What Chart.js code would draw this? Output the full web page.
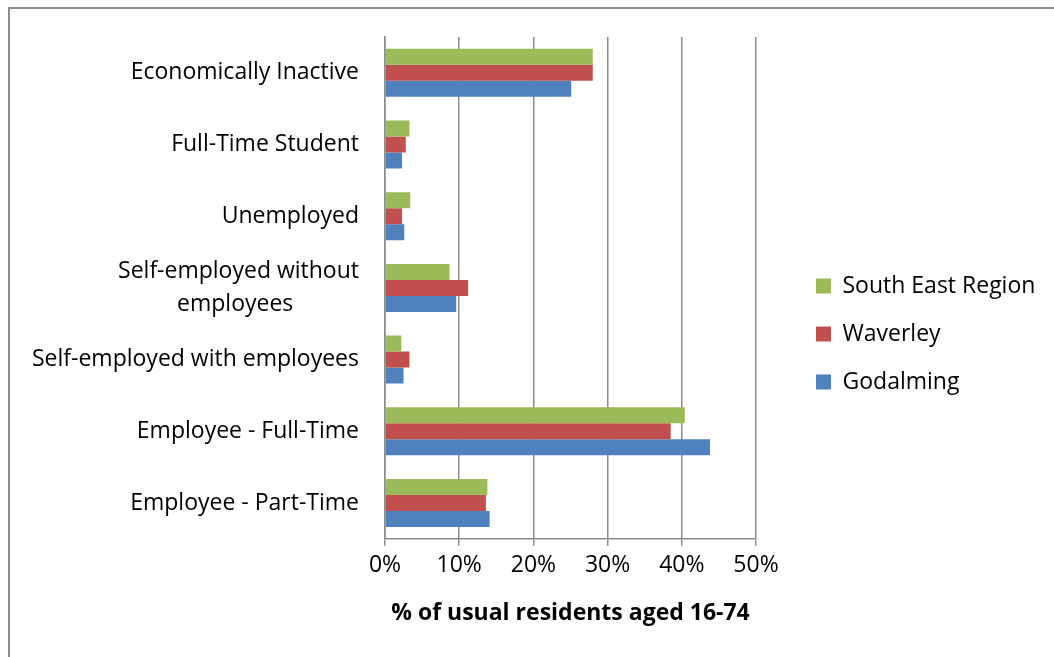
<!DOCTYPE html>
<html>
<head>
<meta charset="utf-8">
<script src="https://cdn.jsdelivr.net/npm/chart.js@4"></script>
<style>
  html, body { margin: 0; padding: 0; background: #fff; overflow: hidden; }
  #frame { position: absolute; left: 8px; top: 7px; width: 1100px; height: 700px; border: 2px solid #8c8c8c; }
  #chart { position: absolute; left: 0; top: 0; }
</style>
</head>
<body>
<div id="frame"></div>
<canvas id="chart" width="1054" height="657"></canvas>
<script>
// categories, top to bottom
const categories = [
    'Economically Inactive',
    'Full-Time Student',
    'Unemployed',
    ['Self-employed without', 'employees           '],
    'Self-employed with employees',
    'Employee - Full-Time',
    'Employee - Part-Time'
];
// % of usual residents aged 16-74
const southEast = [28.0, 3.3, 3.4, 8.7, 2.2, 40.4, 13.8];
const waverley = [28.0, 2.8, 2.3, 11.2, 3.3, 38.5, 13.6];
const godalming = [25.1, 2.3, 2.6, 9.6, 2.5, 43.8, 14.1];
const xTicks = [0, 10, 20, 30, 40, 50];

const FONT = 'Open Sans';
const GAP = 35;          // space between plot and legend
const LEGEND_W = 263;    // legend column width

// empty box between the plot and the legend, and a fixed legend width
const legendLayout = {
    id: 'legendLayout',
    beforeInit(chart) {
        Chart.layouts.addBox(chart, {
            position: 'right',
            weight: 500,
            fullSize: false,
            options: {},
            width: GAP,
            height: 0,
            update(maxWidth, maxHeight) { this.width = GAP; this.height = maxHeight; },
            draw() {},
            isHorizontal() { return false; }
        });
    },
    afterInit(chart) {
        const lg = chart.legend;
        const fit = lg.fit.bind(lg);
        lg.fit = function() {
            fit();
            this.width = LEGEND_W;
        };
    }
};

new Chart(document.getElementById('chart'), {
    type: 'bar',
    data: {
        labels: categories,
        datasets: [
            { label: 'South East Region', data: southEast, backgroundColor: '#9BBB59' },
            { label: 'Waverley', data: waverley, backgroundColor: '#C0504D' },
            { label: 'Godalming', data: godalming, backgroundColor: '#4F81BD' }
        ]
    },
    options: {
        indexAxis: 'y',
        responsive: false,
        animation: false,
        categoryPercentage: 0.67,
        barPercentage: 1,
        layout: { padding: { left: 0, top: 37, right: 0, bottom: 26 } },
        scales: {
            x: {
                min: 0,
                max: 50,
                afterBuildTicks(scale) { scale.ticks = xTicks.map(v => ({ value: v })); },
                grid: { color: '#8c8c8c', lineWidth: 1.5, tickLength: 7, tickColor: '#8c8c8c' },
                border: { color: '#8c8c8c', width: 1.5 },
                ticks: {
                    color: '#000',
                    padding: 6,
                    font: { family: FONT, size: 23 },
                    callback: v => v + '%'
                },
                title: {
                    display: true,
                    text: '% of usual residents aged 16-74',
                    color: '#000',
                    font: { family: FONT, size: 23, weight: 'bold' },
                    padding: { top: 14, bottom: 4 }
                }
            },
            y: {
                afterFit(scale) {
                    scale.width = 385;
                    scale.paddingTop = 0;
                    scale.paddingBottom = 0;
                },
                grid: { display: false, drawTicks: false },
                border: { color: '#8c8c8c', width: 1.5 },
                ticks: {
                    color: '#000',
                    padding: 26,
                    font: { family: FONT, size: 23, lineHeight: 1.4 }
                }
            }
        },
        plugins: {
            legend: {
                position: 'right',
                labels: {
                    color: '#000',
                    boxWidth: 15,
                    boxHeight: 15,
                    padding: 25,
                    font: { family: FONT, size: 23 }
                }
            },
            tooltip: { enabled: false }
        }
    },
    plugins: [legendLayout]
});
</script>
</body>
</html>
